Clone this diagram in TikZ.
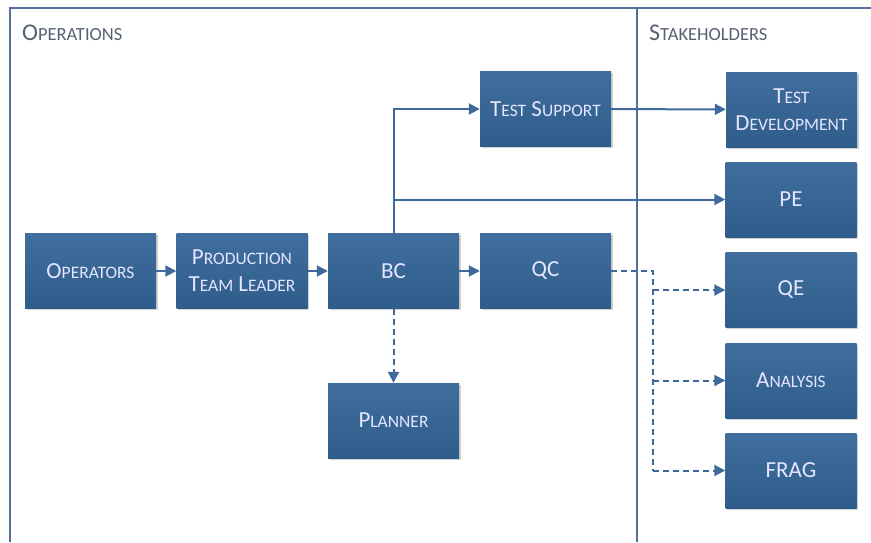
\documentclass[tikz,border=0pt]{standalone}
\usepackage{fontspec}
\setmainfont{Carlito}
\usetikzlibrary{arrows.meta,shadows}
\definecolor{boxtop}{HTML}{3F6E9E}
\definecolor{boxbot}{HTML}{2F5D8B}
\definecolor{linec}{HTML}{3D6A9A}
\definecolor{framec}{HTML}{52709A}
\definecolor{titlec}{HTML}{556070}
% small capitals built from a reduced size of the capitals
\newcommand{\lowcaps}[1]{{\fontsize{17.5}{20}\selectfont #1}}
\newcommand{\lowcapst}[1]{{\fontsize{18.5}{20}\selectfont #1}}
\tikzset{
  blk/.style={rectangle, minimum width=131pt, minimum height=75pt, inner sep=0pt,
    top color=boxtop, bottom color=boxbot, draw=none,
    text=white!90!blue, font=\fontsize{23}{24}\selectfont, align=center,
    drop shadow={shadow xshift=1.5pt, shadow yshift=-1.5pt, opacity=0.18, fill=black}},
  conn/.style={draw=linec, line width=2pt, -{Triangle[length=11pt,width=11pt]}},
  dconn/.style={conn, dash pattern=on 6pt off 4pt},
  dline/.style={draw=linec, line width=2pt, dash pattern=on 6pt off 4pt},
  frame/.style={draw=framec, line width=1.6pt},
  ttl/.style={anchor=west, text=titlec, font=\fontsize{24}{26}\selectfont, inner sep=0pt}
}
\begin{document}
\begin{tikzpicture}[x=1pt,y=-1pt]
\useasboundingbox (0,0) rectangle (871,542);
% swimlane frame
\draw[frame] (10,542) -- (10,8) -- (871,8);
\draw[frame] (637,8) -- (637,542);
\node[ttl] (tops) at (22,33) {O\lowcapst{PERATIONS}};
\node[ttl] (tstk) at (649,33) {S\lowcapst{TAKEHOLDERS}};
% operations boxes
\node[blk] (op)  at (90.5,271)  {O\lowcaps{PERATORS}};
\node[blk] (ptl) at (242,271)   {P\lowcaps{RODUCTION}\\[3pt]T\lowcaps{EAM} L\lowcaps{EADER}};
\node[blk] (bc)  at (393.5,271) {BC};
\node[blk] (qc)  at (545.5,271) {QC};
\node[blk] (ts)  at (545.5,109) {T\lowcaps{EST} S\lowcaps{UPPORT}};
\node[blk] (pl)  at (393.5,420.5) {P\lowcaps{LANNER}};
% stakeholder boxes
\node[blk] (td)  at (791.5,109.5) {T\lowcaps{EST}\\[3pt]D\lowcaps{EVELOPMENT}};
\node[blk] (pe)  at (791,199.5)  {PE};
\node[blk] (qe)  at (791,290)    {QE};
\node[blk] (an)  at (791,380.5)  {A\lowcaps{NALYSIS}};
\node[blk] (fr)  at (791,470.5)  {FRAG};
% solid flow
\draw[conn] (op) -- (ptl);
\draw[conn] (ptl) -- (bc);
\draw[conn] (bc) -- (qc);
\draw[conn] (bc.north) |- (ts.west);
\coordinate (peJ) at (bc.north |- pe.west);
\draw[conn] (peJ) -- (pe.west);
\draw[conn] (ts) -- (td);
% dashed flow
\draw[dconn] (bc.south) -- (pl.north);
\coordinate (qJ) at (653,271);
\draw[dline] (qc.east) -- (qJ) -- (qJ |- fr.west);
\draw[dconn] (qJ |- qe.west) -- (qe.west);
\draw[dconn] (qJ |- an.west) -- (an.west);
\draw[dconn] (qJ |- fr.west) -- (fr.west);
\end{tikzpicture}
\end{document}
